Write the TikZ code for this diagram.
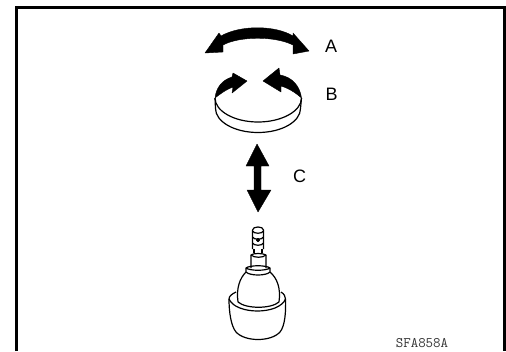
\documentclass[tikz,border=0pt]{standalone}
\usepackage{fontspec}
\setmainfont{Liberation Sans}
\usepackage{tikz}
\usetikzlibrary{positioning}

\begin{document}
\begin{tikzpicture}[
        x=1pt,
        y=-1pt,
        frameline/.style={draw=black, line width=3pt},
        thinline/.style={draw=black, line width=1.2pt, line join=round},
        solidarrow/.style={fill=black, draw=black, line width=0.4pt, line join=round},
        letter/.style={font=\fontsize{18}{18}\selectfont, inner sep=0pt},
        partno/.style={font=\ttfamily\fontsize{14.5}{14.5}\selectfont, text=black!80, inner sep=0pt}
    ]
        \useasboundingbox (0,0) rectangle (506,351);

        % Frame
        \draw[frameline] (16.5,351) -- (16.5,7.5) -- (504.5,7.5) -- (504.5,351);

        % Arrow A
        \path[solidarrow] (205,53) -- (219,33) -- (221,36)
            .. controls (240,25) and (275,25) .. (293,36)
            -- (293,33) -- (309,51) -- (293,54) -- (293,45)
            .. controls (275,36) and (240,36) .. (223,45)
            -- (223,52) -- cycle;

        % Disk
        \draw[thinline] (215,98) .. controls (215,111) and (234,122) .. (258,122)
            .. controls (282,122) and (301.5,111) .. (301.5,98);
        \draw[thinline] (215,98) -- (215.5,108.5)
            .. controls (215.5,121.5) and (234,132.5) .. (258,132.5)
            .. controls (282,132.5) and (300.5,121.5) .. (300.5,108.5) -- (301.5,98);

        % Arrows B
        \path[solidarrow] (247,81) -- (233,73) -- (232,77)
            .. controls (222,80) and (216,88) .. (215,98)
            .. controls (219,95) and (225,90) .. (233,87)
            -- (232,93) -- cycle;
        \path[solidarrow] (263,81) -- (279,68) -- (280,75)
            .. controls (292,77) and (300,86) .. (301.5,98)
            .. controls (298,95) and (291,89) .. (281,86)
            -- (281,92) -- cycle;

        % Arrow C
        \path[solidarrow] (257,144) -- (269,166) -- (261,166) -- (261,190) -- (271,190)
            -- (258,212) -- (247,190) -- (254,190) -- (254,166) -- (246,166) -- cycle;

        % Stud
        \draw[thinline] (252.5,230) .. controls (252.5,226) and (263.5,226) .. (263.5,230)
            -- (263.5,249) (252.5,230) -- (252.5,249);
        \draw[thinline] (252.5,231) .. controls (254,234) and (262,234) .. (263.5,231);
        \draw[thinline] (252.5,237) .. controls (254,240) and (262,240) .. (263.5,237);
        \draw[thinline] (252.5,243) .. controls (254,246) and (262,246) .. (263.5,243);
        \draw[thinline, fill=black] (258,240) circle (1.5);
        \draw[thinline] (254,249) -- (254,253) (262,249) -- (262,253);
        \draw[thinline] (251,268) -- (251,255) .. controls (253,253) and (263,253) .. (266,255) -- (266,268);
        \draw[thinline] (251,255) .. controls (254,258) and (263,258) .. (266,255);

        % Flange
        \draw[thinline] (246,268) .. controls (250,265) and (266,265) .. (270,268)
            -- (270,272) .. controls (266,276) and (250,276) .. (246,272) -- cycle;
        \draw[thinline] (246,268) .. controls (250,271) and (266,271) .. (270,268);

        % Body
        \draw[thinline] (238,302) .. controls (236,288) and (240,278) .. (246,272);
        \draw[thinline] (279,302) .. controls (281,288) and (277,278) .. (270,272);
        \draw[thinline] (238,302) .. controls (246,309) and (271,309) .. (279,302);

        % Boot
        \draw[thinline] (236,292) .. controls (232,294) and (229,296) .. (229,299)
            .. controls (229,312) and (231,326) .. (236,332)
            .. controls (245,342) and (271,342) .. (280,332)
            .. controls (285,326) and (286,312) .. (285.5,299)
            .. controls (285.5,296) and (284,294) .. (281,292);
        \draw[thinline] (229,299) .. controls (236,315) and (279,315) .. (285.5,299);

        % Labels
        \node[letter] (labelA) at (331,46) {A};
        \node[letter] (labelB) at (331.5,94.5) {B};
        \node[letter] (labelC) at (299.5,176.5) {C};
        \node[partno] (partno) at (422,343.5) {SFA858A};
    \end{tikzpicture}
\end{document}
